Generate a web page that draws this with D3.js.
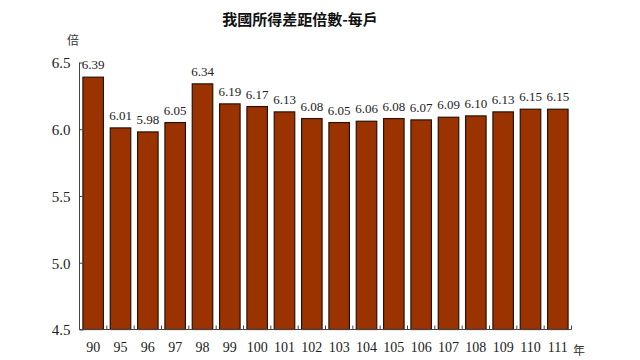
<!DOCTYPE html>
<html><head><meta charset="utf-8">
<script src="https://cdn.jsdelivr.net/npm/d3@7"></script>
<style>body{margin:0;background:#fff}svg{display:block}
.serif{font-family:"Liberation Serif","Times New Roman",serif}
.cjk{font-family:"Noto Sans CJK TC","Noto Sans CJK SC",sans-serif}
</style>
</head><body>
<svg id="c" width="640" height="360"></svg>
<script>
const categories = ["90","95","96","97","98","99","100","101","102","103","104","105","106","107","108","109","110","111"];
const values = [6.39,6.01,5.98,6.05,6.34,6.19,6.17,6.13,6.08,6.05,6.06,6.08,6.07,6.09,6.10,6.13,6.15,6.15];
const yTicks = [4.5,5.0,5.5,6.0,6.5];
const title = "我國所得差距倍數-每戶";
const yUnit = "倍";
const xUnit = "年";

const svg = d3.select("#c");
const x = d3.scaleBand().domain(categories).range([79.5, 571.5]).paddingInner(0.25).paddingOuter(0.125);
const y = d3.scaleLinear().domain([4.5, 6.5]).range([329.5, 62.5]);

svg.append("text").attr("class","cjk").attr("x", 300).attr("y", 25).attr("text-anchor", "middle")
  .attr("font-weight", "bold").attr("font-size", 15)
  .attr("fill", "#111").text(title);

svg.selectAll("rect.bar").data(values).join("rect").attr("class","bar")
  .attr("x", (d,i)=>x(categories[i])).attr("width", x.bandwidth())
  .attr("y", d=>y(d)).attr("height", d=>y(4.5)-y(d))
  .attr("fill", "#9a3300").attr("stroke", "#2a1208").attr("stroke-width", 1.2);

svg.selectAll("text.val").data(values).join("text").attr("class","val serif")
  .attr("x", (d,i)=>x(categories[i])+x.bandwidth()/2).attr("y", d=>y(d)-8)
  .attr("text-anchor","middle").attr("font-size", 13).attr("fill","#222")
  .text(d=>d.toFixed(2));

const yAxis = d3.axisRight(y).tickValues(yTicks).tickSize(4).tickFormat(d=>d.toFixed(1));
const gy = svg.append("g").attr("transform","translate(79.5,0)").call(yAxis).attr("font-family", null);
gy.select(".domain").attr("d", `M0,${y(6.5)}V${y(4.5)}`).attr("stroke","#444");
gy.selectAll(".tick line").attr("stroke","#444");
gy.selectAll(".tick text").attr("class","serif").attr("x", -9).attr("dy","0.35em").attr("text-anchor","end").attr("font-size", 15).attr("fill","#222");

const xAxis = d3.axisBottom(x).tickSize(0).tickPadding(13);
const gx = svg.append("g").attr("transform",`translate(0,${y(4.5)})`).call(xAxis).attr("font-family", null);
gx.select(".domain").attr("d","M79.5,0H571.5").attr("stroke","#444");
gx.selectAll(".tick text").attr("class","serif").attr("font-size", 14).attr("fill","#222");
const bounds = categories.map(c=>x(c)-x.step()*x.paddingInner()/2).concat([571.5]);
gx.selectAll("line.b").data(bounds).join("line").attr("class","b")
  .attr("x1", d=>d).attr("x2", d=>d).attr("y1", 0).attr("y2", -4).attr("stroke","#444");

svg.append("text").attr("class","cjk").attr("x", 73).attr("y", 45).attr("text-anchor","middle")
  .attr("font-size", 12).attr("fill","#333").text(yUnit);
svg.append("text").attr("class","cjk").attr("x", 579).attr("y", 355).attr("text-anchor","middle")
  .attr("font-size", 12).attr("fill","#333").text(xUnit);
</script>
</body></html>
